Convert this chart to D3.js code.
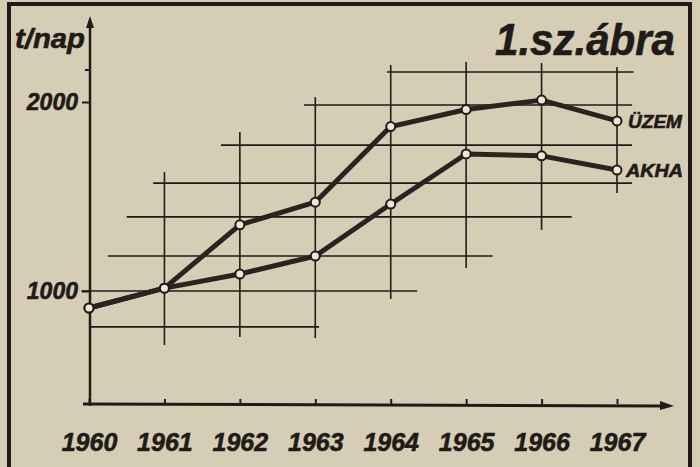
<!DOCTYPE html>
<html lang="hu">
<head>
    <meta charset="utf-8">
    <script src="https://d3js.org/d3.v7.min.js"></script>
    <style>
        body { margin: 0; background: #d6ceb4; }
        svg { display: block; }
        text { font-family: "Liberation Sans", Arial, sans-serif; font-weight: bold; font-style: italic; fill: #1f1b19; stroke: #1f1b19; stroke-width: 0.6px; }
    </style>
</head>
<body>
<div id="chart"></div>
<script>
    // data (t/nap)
    var years = [1960, 1961, 1962, 1963, 1964, 1965, 1966, 1967]
    var uzem = [910, 1015, 1350, 1470, 1870, 1960, 2010, 1900]
    var akna = [910, 1015, 1090, 1185, 1460, 1725, 1715, 1640]
    var yTicks = [1000, 2000]

    // staggered grid: horizontal lines [value, from year, to year]
    var gridH = [
        [810, 1960, 1963.05],
        [1000, 1959.9, 1964.35],
        [1185, 1960.25, 1965.35],
        [1392, 1960.5, 1966.4],
        [1571, 1960.85, 1967.2],
        [1772, 1961.75, 1967.2],
        [1984, 1962.85, 1967.2],
        [2159, 1963.95, 1967.22]
    ]
    // vertical lines [year, from value, to value]
    var gridV = [
        [1961, 714, 1630],
        [1962, 757, 1841],
        [1963, 751, 2026],
        [1964, 958, 2196],
        [1965, 1122, 2212],
        [1966, 1323, 2206],
        [1967, 1519, 2185]
    ]

    var width = 700
    var height = 467
    var ink = "#1f1b19"

    var svg = d3.select("#chart")
        .append("svg")
        .attr("width", width)
        .attr("height", height)

    var x = d3.scaleLinear().domain([1960, 1967]).range([89, 617])
    var y = d3.scaleLinear().domain([1000, 2000]).range([291, 102])

    var axisY = 404  // pixel row of the time axis

    // frame
    svg.append("path")
        .attr("d", "M9,467 V4 H690 V467")
        .attr("fill", "none")
        .attr("stroke", ink)
        .attr("stroke-width", 4)

    // grid
    svg.append("g")
        .selectAll("line")
        .data(gridH)
        .enter()
        .append("line")
        .attr("x1", function(d) { return x(d[1]) })
        .attr("x2", function(d) { return x(d[2]) })
        .attr("y1", function(d) { return y(d[0]) })
        .attr("y2", function(d) { return y(d[0]) })
        .attr("stroke", ink)
        .attr("stroke-width", 1.6)

    svg.append("g")
        .selectAll("line")
        .data(gridV)
        .enter()
        .append("line")
        .attr("x1", function(d) { return x(d[0]) })
        .attr("x2", function(d) { return x(d[0]) })
        .attr("y1", function(d) { return y(d[1]) })
        .attr("y2", function(d) { return y(d[2]) })
        .attr("stroke", ink)
        .attr("stroke-width", 1.6)

    // y axis
    var gy = svg.append("g")
        .attr("transform", "translate(" + x(1960) + ",0)")
        .call(d3.axisLeft(y).tickValues(yTicks).tickSize(7).tickPadding(4).tickFormat(d3.format("d")))
    gy.select(".domain").remove()
    gy.selectAll("line").attr("stroke", ink).attr("stroke-width", 2)
    gy.selectAll("text").attr("font-size", 23).attr("font-family", null).attr("fill", ink)

    svg.append("line")
        .attr("x1", x(1960) + 1).attr("x2", x(1960) + 1)
        .attr("y1", axisY + 2).attr("y2", 24)
        .attr("stroke", ink).attr("stroke-width", 2.5)
    svg.append("path")
        .attr("d", d3.line()([[x(1960) - 3, 28], [x(1960) + 1, 16], [x(1960) + 5, 28]]) + "Z")
        .attr("fill", ink)
    // minor tick
    svg.append("line")
        .attr("x1", x(1960) - 4).attr("x2", x(1960))
        .attr("y1", 70).attr("y2", 70)
        .attr("stroke", ink).attr("stroke-width", 2)

    // x axis
    var gx = svg.append("g")
        .attr("transform", "translate(0," + axisY + ")")
        .call(d3.axisBottom(x).tickValues(years).tickSize(-5).tickPadding(29).tickFormat(d3.format("d")))
    gx.select(".domain").remove()
    gx.selectAll("line").attr("stroke", ink).attr("stroke-width", 2)
    gx.selectAll("text").attr("font-size", 25).attr("font-family", null).attr("fill", ink)

    svg.append("line")
        .attr("x1", 83).attr("x2", 664)
        .attr("y1", axisY).attr("y2", axisY + 2)
        .attr("stroke", ink).attr("stroke-width", 3)
    svg.append("path")
        .attr("d", d3.line()([[660, axisY - 3], [674, axisY + 2], [660, axisY + 6]]) + "Z")
        .attr("fill", ink)

    // series
    var line = d3.line()
        .x(function(d, i) { return x(years[i]) })
        .y(function(d) { return y(d) })

    var series = [uzem, akna]
    series.forEach(function(s) {
        svg.append("path")
            .attr("d", line(s))
            .attr("fill", "none")
            .attr("stroke", "#2a2421")
            .attr("stroke-width", 5)
            .attr("stroke-linejoin", "round")
    })
    series.forEach(function(s) {
        svg.append("g")
            .selectAll("circle")
            .data(s)
            .enter()
            .append("circle")
            .attr("cx", function(d, i) { return x(years[i]) })
            .attr("cy", function(d) { return y(d) })
            .attr("r", 4.5)
            .attr("fill", "#ece6d4")
            .attr("stroke", ink)
            .attr("stroke-width", 2)
    })

    // labels
    svg.append("text")
        .attr("x", 628).attr("y", y(uzem[7]) + 7)
        .attr("font-size", 18)
        .attr("textLength", 54).attr("lengthAdjust", "spacingAndGlyphs")
        .text("ÜZEM")
    svg.append("text")
        .attr("x", 626).attr("y", y(akna[7]) + 7)
        .attr("font-size", 18)
        .attr("textLength", 57).attr("lengthAdjust", "spacingAndGlyphs")
        .text("AKHA")

    svg.append("text")
        .attr("x", 15).attr("y", 48)
        .attr("font-size", 27)
        .attr("textLength", 70).attr("lengthAdjust", "spacingAndGlyphs")
        .text("t/nap")

    svg.append("text")
        .attr("x", 495).attr("y", 55)
        .attr("font-size", 44)
        .attr("textLength", 180).attr("lengthAdjust", "spacingAndGlyphs")
        .text("1.sz.ábra")
</script>
</body>
</html>
